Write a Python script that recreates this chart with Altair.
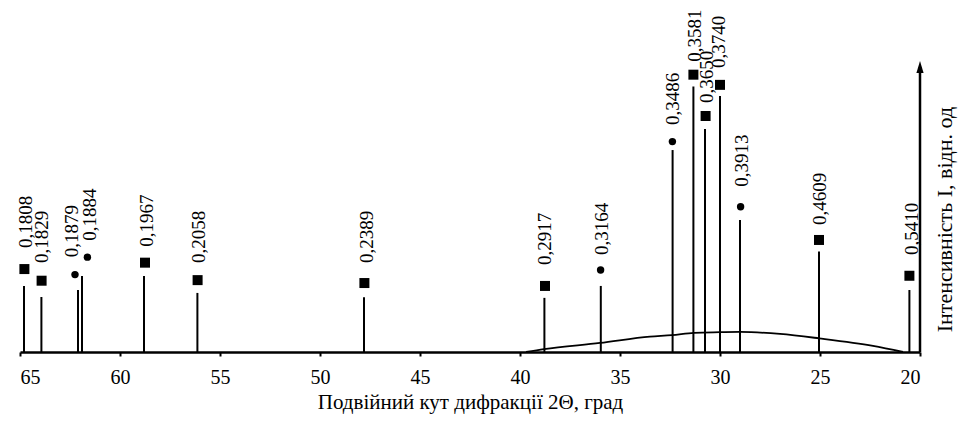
import altair as alt
import pandas as pd

# d-spacing labels (nm), peak positions (2θ, deg) and relative intensities
d_labels = ["0,1808", "0,1829", "0,1879", "0,1884", "0,1967", "0,2058", "0,2389", "0,2917",
            "0,3164", "0,3486", "0,3581", "0,3650", "0,3740", "0,3913", "0,4609", "0,5410"]
two_theta = [64.8, 63.93, 62.1, 61.9, 58.8, 56.13, 47.8, 38.78,
             35.96, 32.37, 31.33, 30.75, 30.0, 29.0, 25.05, 20.53]
intensity = [22.7, 18.9, 21.3, 26.1, 26.1, 20.3, 18.8, 18.6,
             22.7, 69.4, 91.2, 76.6, 88.0, 45.4, 34.5, 21.3]
phase = ["square", "square", "circle", "circle", "square", "square", "square", "square",
         "circle", "circle", "square", "square", "square", "circle", "square", "square"]
marker_theta = [64.78, 63.92, 62.25, 61.63, 58.75, 56.12, 47.78, 38.75,
                35.97, 32.38, 31.33, 30.72, 30.0, 28.97, 25.05, 20.53]
marker_level = [28.5, 24.5, 26.6, 32.6, 30.7, 24.7, 23.7, 22.7,
                28.2, 72.3, 95.3, 81.1, 91.8, 49.9, 38.5, 26.2]
label_theta = [64.7, 63.92, 62.42, 61.5, 58.67, 56.05, 47.67, 38.75,
               35.92, 32.33, 31.25, 30.65, 30.05, 28.9, 25.0, 20.4]
label_level = [35.7, 30.6, 32.6, 38.2, 36.2, 30.6, 30.6, 29.9,
               33.3, 78.0, 99.7, 85.6, 97.6, 56.8, 43.6, 33.3]

# amorphous halo
halo_theta = [39.7, 38.8, 36.0, 33.5, 32.4, 31.3, 30.0, 29.0, 27.0, 25.05, 22.35, 20.85]
halo_level = [0, 1.0, 3.1, 5.3, 5.8, 6.6, 6.8, 6.9, 6.2, 4.7, 2.1, 0]

x_ticks = [65, 60, 55, 50, 45, 40, 35, 30, 25, 20]
x_title_text = "Подвійний кут дифракції 2Θ, град"
y_title_text = "Інтенсивність I, відн. од"

peaks = pd.DataFrame({
    "d": d_labels, "t": two_theta, "i": intensity, "zero": [0] * len(d_labels), "phase": phase,
    "mt": marker_theta, "ml": marker_level, "lt": label_theta, "ll": label_level,
})
halo = pd.DataFrame({"t": halo_theta, "i": halo_level})
yaxis_df = pd.DataFrame({"t": [20], "bottom": [0], "top": [97.9], "mid": [45.5],
                         "title": [y_title_text]})

FONT = "Liberation Serif"
xs = alt.Scale(domain=[20, 65], reverse=True, nice=False, zero=False)
ys = alt.Scale(domain=[0, 100], nice=False, zero=True)

x_axis = alt.Axis(values=x_ticks, title=x_title_text, grid=False,
                  domainColor="black", domainWidth=2.5, tickColor="black", tickWidth=2,
                  tickSize=4, labelFont=FONT, labelFontSize=20, labelColor="black",
                  labelPadding=11, titleFont=FONT, titleFontSize=21,
                  titleFontWeight="normal", titleColor="black", titlePadding=4)


def X(f):
    return alt.X(f, scale=xs, axis=x_axis)


def Y(f):
    return alt.Y(f, scale=ys, axis=None)


stems = alt.Chart(peaks).mark_rule(color="black", strokeWidth=2).encode(
    x=X("t:Q"), y=Y("zero:Q"), y2="i:Q",
)

halo_line = alt.Chart(halo).mark_line(color="black", strokeWidth=1.8, interpolate="monotone").encode(
    x=X("t:Q"), y=Y("i:Q"),
)

squares = alt.Chart(peaks).transform_filter(alt.datum.phase == "square").mark_square(
    opacity=1, color="black", size=100).encode(x=X("mt:Q"), y=Y("ml:Q"))
circles = alt.Chart(peaks).transform_filter(alt.datum.phase == "circle").mark_circle(
    opacity=1, color="black", size=55).encode(x=X("mt:Q"), y=Y("ml:Q"))

labels = alt.Chart(peaks).mark_text(angle=270, align="left", baseline="middle", font=FONT,
                                    fontSize=19, color="black").encode(
    x=X("lt:Q"), y=Y("ll:Q"), text="d:N",
)

y_rule = alt.Chart(yaxis_df).mark_rule(color="black", strokeWidth=2.5).encode(
    x=X("t:Q"), y=Y("bottom:Q"), y2="top:Q",
)
arrow = alt.Chart(yaxis_df).mark_point(shape="M0,-1L0.6,1L-0.6,1Z", filled=True, opacity=1,
                                      color="black", size=144).encode(x=X("t:Q"), y=Y("top:Q"))
y_title = alt.Chart(yaxis_df).mark_text(angle=270, align="center", baseline="middle", font=FONT,
                                        fontSize=22, color="black", dy=25).encode(
    x=X("t:Q"), y=Y("mid:Q"), text="title:N",
)

chart = alt.layer(halo_line, stems, squares, circles, labels, y_rule, arrow, y_title).properties(
    width=900, height=291,
    autosize=alt.AutoSizeParams(type="none"),
    padding={"left": 12, "top": 53, "right": 38, "bottom": 64},
    background="white",
).configure_view(strokeWidth=0)

chart.save("out.html", embed_options={"renderer": "svg", "actions": False})
